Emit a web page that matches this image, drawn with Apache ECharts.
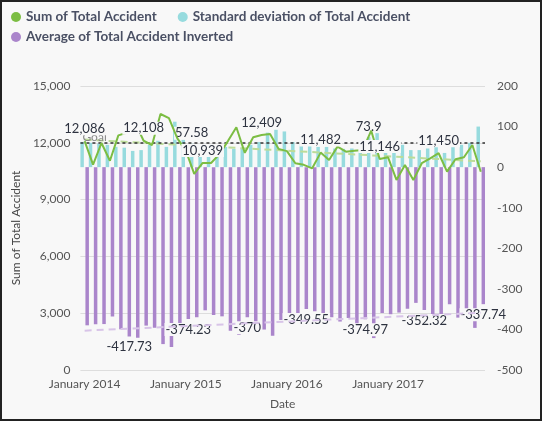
<!DOCTYPE html>
<html>
<head>
<meta charset="utf-8">
<script src="https://cdn.jsdelivr.net/npm/echarts@6/dist/echarts.min.js"></script>
<style>
html,body{margin:0;padding:0;background:#f8f8f8;}
#wrap{width:542px;height:421px;box-sizing:border-box;border:2px solid #222;background:#f8f8f8;overflow:hidden;}
#chart{width:538px;height:417px;}
</style>
</head>
<body>
<div id="wrap"><div id="chart"></div></div>
<script>
const months = ['January','February','March','April','May','June','July','August','September','October','November','December'];
const years = [2014, 2015, 2016, 2017];
const categories = [];
years.forEach(y => months.forEach(m => categories.push(m + ' ' + y)));

const sumValues = [
  12086, 10850, 11990, 11050, 12390, 12532, 13040, 12108, 11880, 13520, 13300, 12230,
  11601, 10360, 10939, 10930, 11400, 12090, 12820, 11470, 12290, 12409, 12460, 11680,
  11560, 10920, 10836, 10652, 11482, 11093, 11798, 11533, 11586, 11624, 12640, 11146,
  11234, 10037, 10829, 10037, 10922, 11181, 11450, 10476, 11128, 11234, 11886, 10470
];
const stdValues = [
  62, 60, 58, 55, 50, 48, 40, 42, 55, 65, 50, 112,
  68, 57.58, 52, 45, 55, 50, 45, 48, 55, 62, 85, 92,
  88, 62, 60, 62, 50, 50, 46, 45, 46, 42, 73.9, 92,
  42, 52, 55, 42, 42, 46, 62, 35, 55, 55, 60, 100
];
const avgInverted = [
  -389.87, -387.50, -386.77, -368.33, -399.68, -417.73, -420.65, -390.58, -396.00, -436.13, -443.33, -394.52,
  -374.23, -370.00, -352.87, -364.33, -367.74, -403.00, -413.55, -370.00, -409.67, -400.29, -415.33, -376.77,
  -372.90, -376.55, -349.55, -355.07, -370.39, -369.77, -380.58, -372.03, -386.20, -374.97, -421.33, -359.55,
  -362.39, -358.46, -349.32, -334.57, -352.32, -372.70, -369.35, -337.94, -370.93, -362.39, -396.20, -337.74
];
const sumTrend = [12170, 11020];
const avgTrend = [-403, -359];
const goalValue = 12000;
const sumLabelIdx = [0, 7, 14, 21, 28, 35, 42];
const stdLabelIdx = [13, 34];
const avgLabelIdx = [5, 12, 19, 26, 33, 40, 47];

const BG = '#f8f8f8';
const FONT = 'Lato';
const labelBase = {fontFamily: FONT, fontSize: 13, color: '#2e3340', backgroundColor: BG, padding: [0, 1]};

function withLabels(arr, idx) {
  return arr.map((v, i) => idx.includes(i) ? {value: v, label: {show: true}} : v);
}

const legendText = {fontSize: 13.5, fontWeight: 'bold', color: '#4a5064', fontFamily: FONT};
const chart = echarts.init(document.getElementById('chart'));
chart.setOption({
  backgroundColor: BG,
  animation: false,
  textStyle: {fontFamily: FONT},
  legend: [
    {data: ['Sum of Total Accident', 'Standard deviation of Total Accident'], left: 4, top: 3, icon: 'circle',
     itemWidth: 10, itemHeight: 10, itemGap: 21, textStyle: legendText},
    {data: ['Average of Total Accident Inverted'], left: 4, top: 23, icon: 'circle',
     itemWidth: 10, itemHeight: 10, textStyle: legendText}
  ],
  grid: {left: 78, right: 55, top: 84, bottom: 49},
  xAxis: {
    type: 'category', data: categories, name: 'Date', nameLocation: 'middle', nameGap: 28,
    nameTextStyle: {fontSize: 12, color: '#555', fontFamily: FONT},
    axisLine: {show: false}, axisTick: {show: false},
    axisLabel: {interval: 11, fontSize: 12, color: '#555', margin: 8, fontFamily: FONT}
  },
  yAxis: [
    {type: 'value', min: 0, max: 15000, interval: 3000, name: 'Sum of Total Accident', nameLocation: 'middle', nameGap: 56,
     nameTextStyle: {fontSize: 12, color: '#444', fontFamily: FONT},
     axisLabel: {fontSize: 12, color: '#555', margin: 10, fontFamily: FONT, formatter: v => v.toLocaleString('en-US')},
     splitLine: {lineStyle: {color: '#dddddd'}}, axisLine: {show: false}, axisTick: {show: false}},
    {type: 'value', min: -500, max: 200, interval: 100,
     axisLabel: {fontSize: 12, color: '#555', margin: 12, fontFamily: FONT},
     splitLine: {show: false}, axisLine: {show: false}, axisTick: {show: false}}
  ],
  series: [
    {name: 'Standard deviation of Total Accident', type: 'bar', yAxisIndex: 1, barWidth: 3.5, barGap: '45%',
     itemStyle: {color: '#97dbde'}, z: 2,
     label: Object.assign({show: false, position: 'top', distance: 4}, labelBase),
     data: withLabels(stdValues, stdLabelIdx)},
    {name: 'Average of Total Accident Inverted', type: 'bar', yAxisIndex: 1, barWidth: 3.5,
     itemStyle: {color: '#aa85cb'}, z: 2,
     label: Object.assign({show: false, position: 'bottom', distance: 4}, labelBase),
     data: withLabels(avgInverted, avgLabelIdx)},
    {name: 'avgTrend', type: 'line', yAxisIndex: 1, symbol: 'none', silent: true, z: 3,
     lineStyle: {color: '#d8c4e8', width: 2, type: [7, 5]},
     data: [[categories[0], avgTrend[0]], [categories[categories.length - 1], avgTrend[1]]]},
    {name: 'sumTrend', type: 'line', yAxisIndex: 0, symbol: 'none', silent: true, z: 3,
     lineStyle: {color: '#bcdc98', width: 2, type: [7, 5]},
     data: [[categories[0], sumTrend[0]], [categories[categories.length - 1], sumTrend[1]]]},
    {name: 'Sum of Total Accident', type: 'line', yAxisIndex: 0, z: 5,
     symbol: 'circle', symbolSize: 0.01, showSymbol: true,
     itemStyle: {color: '#7cbd43'}, lineStyle: {color: '#7cbd43', width: 2},
     label: Object.assign({show: false, position: 'top', distance: 6, formatter: p => p.value.toLocaleString('en-US')}, labelBase),
     markLine: {silent: true, symbol: 'none', z: 4,
       lineStyle: {color: '#333', width: 1.5, type: [3, 3]},
       label: {show: true, position: 'insideStartTop', formatter: 'Goal', color: '#888', fontSize: 12, fontFamily: FONT, distance: [2, 0]},
       data: [{yAxis: goalValue}]},
     data: withLabels(sumValues, sumLabelIdx)}
  ]
});
</script>
</body>
</html>
